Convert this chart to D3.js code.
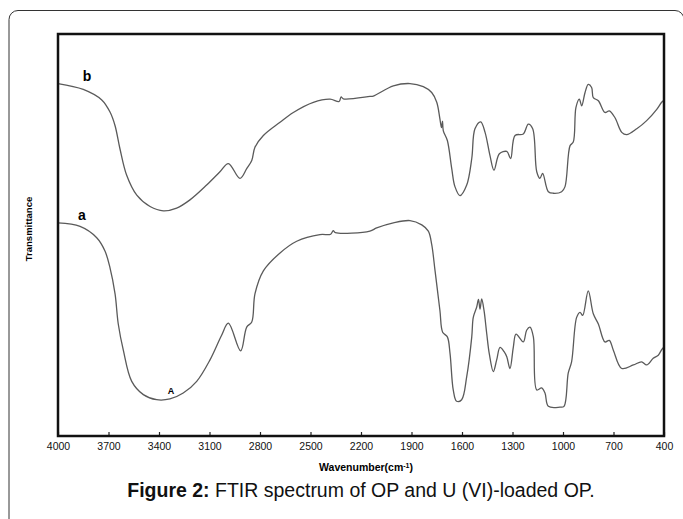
<!DOCTYPE html>
<html>
<head>
<meta charset="utf-8">
<script src="https://cdn.jsdelivr.net/npm/d3@7"></script>
<style>
  body { margin: 0; background: #fff; }
  svg { display: block; font-family: "Liberation Sans", Arial, sans-serif; }
</style>
</head>
<body>
<script>
// wavenumber (cm-1) and transmittance (arbitrary units)
const waveB = [4000, 3850, 3740, 3691, 3661, 3632, 3592, 3532, 3453, 3374, 3295, 3216, 3117, 3038, 2988, 2919, 2879, 2849, 2830, 2780, 2681, 2602, 2483, 2384, 2330, 2318, 2305, 2147, 2127, 2008, 1909, 1830, 1780, 1750, 1731, 1722, 1716, 1711, 1687, 1661, 1642, 1612, 1572, 1542, 1523, 1489, 1463, 1434, 1410, 1378, 1334, 1311, 1285, 1236, 1206, 1180, 1156, 1137, 1121, 1087, 1058, 1008, 988, 958, 939, 923, 903, 889, 869, 850, 830, 820, 790, 751, 725, 692, 651, 622, 562, 503, 443, 414, 400];
const transB = [89.8, 88.3, 85.6, 82.5, 79.0, 73.1, 66.3, 61.2, 58.3, 57.2, 57.9, 60.0, 63.8, 67.2, 69.3, 65.5, 68.0, 70.1, 73.5, 76.5, 79.9, 82.4, 85.0, 85.8, 85.2, 86.4, 85.9, 86.5, 86.6, 89.2, 89.8, 89.0, 87.5, 85.0, 80.7, 78.5, 80.2, 77.7, 75.2, 68.0, 63.4, 61.1, 63.8, 70.6, 78.2, 80.0, 77.3, 71.4, 67.6, 71.8, 72.4, 70.6, 76.5, 76.9, 79.4, 78.2, 67.2, 65.5, 66.8, 62.1, 61.7, 62.1, 63.4, 73.9, 74.8, 83.7, 85.8, 84.1, 87.5, 89.6, 88.8, 86.2, 85.4, 82.4, 82.8, 81.1, 77.3, 76.7, 78.2, 80.3, 83.2, 85.0, 85.5];

const waveA = [4000, 3869, 3770, 3721, 3691, 3661, 3642, 3612, 3562, 3493, 3414, 3335, 3256, 3176, 3097, 3028, 2988, 2915, 2879, 2849, 2830, 2780, 2681, 2582, 2444, 2380, 2365, 2352, 2147, 2107, 2008, 1909, 1839, 1800, 1780, 1760, 1731, 1715, 1687, 1671, 1652, 1632, 1602, 1572, 1542, 1533, 1513, 1502, 1493, 1483, 1469, 1453, 1438, 1414, 1394, 1374, 1350, 1334, 1315, 1295, 1279, 1236, 1216, 1196, 1176, 1156, 1127, 1107, 1087, 1018, 994, 969, 949, 919, 899, 883, 850, 820, 790, 751, 725, 701, 651, 582, 533, 503, 464, 434, 414, 400];
const transA = [54.1, 53.2, 50.3, 46.9, 42.6, 35.9, 28.2, 21.5, 13.5, 10.1, 8.8, 9.0, 10.5, 13.5, 19.0, 25.3, 28.4, 21.3, 27.4, 28.7, 35.9, 41.8, 46.4, 49.4, 51.1, 51.2, 52.1, 51.6, 52.0, 52.8, 54.1, 54.7, 53.6, 52.0, 48.6, 41.8, 31.6, 26.1, 24.9, 20.6, 11.3, 8.4, 8.8, 14.7, 24.9, 29.9, 32.5, 34.5, 32.0, 34.6, 31.6, 25.7, 20.6, 16.0, 19.0, 22.2, 21.1, 19.8, 16.8, 22.3, 25.6, 23.6, 26.6, 27.4, 24.9, 11.3, 11.8, 10.5, 7.1, 6.9, 7.1, 15.6, 18.5, 29.9, 31.2, 30.4, 36.7, 30.8, 28.2, 23.6, 24.0, 21.5, 16.8, 17.7, 18.5, 17.7, 19.4, 20.2, 21.6, 22.3];

const xTicks = [4000, 3700, 3400, 3100, 2800, 2500, 2200, 1900, 1600, 1300, 1000, 700, 400];

const width = 683, height = 519;
const plotL = 58, plotR = 664, plotT = 34, plotB = 436;

const svg = d3.select('body')
  .append('svg')
  .attr('width', width)
  .attr('height', height);

// outer box of the figure panel (runs off the right and bottom edges)
svg.append('rect')
  .attr('x', 9).attr('y', 10.5)
  .attr('width', 675).attr('height', 600)
  .attr('rx', 9)
  .attr('fill', 'none')
  .attr('stroke', '#333')
  .attr('stroke-width', 1);

const x = d3.scaleLinear()
  .domain([4000, 400])
  .range([plotL, plotR]);

const y = d3.scaleLinear()
  .domain([-0.5, 102.5])
  .range([plotB, plotT]);

const xAxis = d3.axisBottom(x)
  .tickValues(xTicks)
  .tickFormat(d3.format('d'))
  .tickSizeInner(-4)
  .tickSizeOuter(0)
  .tickPadding(7);

const gx = svg.append('g')
  .attr('transform', 'translate(0,' + plotB + ')')
  .call(xAxis);
gx.select('.domain').remove();
gx.selectAll('.tick line').attr('stroke', '#222').attr('stroke-width', 1.2);
gx.selectAll('.tick text')
  .attr('fill', '#111')
  .style('font-size', '10.5px')
  .style('font-family', '"Liberation Sans", Arial, sans-serif');

const line = d3.line()
  .x((d) => x(d[0]))
  .y((d) => y(d[1]))
  .curve(d3.curveCatmullRom.alpha(0.5));

const series = [
  waveB.map((w, i) => [w, transB[i]]),
  waveA.map((w, i) => [w, transA[i]])
];

svg.selectAll('path.spec')
  .data(series)
  .enter()
  .append('path')
  .attr('class', 'spec')
  .attr('d', line)
  .attr('fill', 'none')
  .attr('stroke', '#5a5a5a')
  .attr('stroke-width', 1.3);

// plot frame
svg.append('rect')
  .attr('x', plotL).attr('y', plotT)
  .attr('width', plotR - plotL).attr('height', plotB - plotT)
  .attr('fill', 'none')
  .attr('stroke', '#111')
  .attr('stroke-width', 2.5);

svg.append('text')
  .text('b')
  .attr('x', 87).attr('y', 81)
  .attr('text-anchor', 'middle')
  .style('font-size', '14px').style('font-weight', 'bold');

svg.append('text')
  .text('a')
  .attr('x', 82).attr('y', 220)
  .attr('text-anchor', 'middle')
  .style('font-size', '14px').style('font-weight', 'bold');

svg.append('text')
  .text('A')
  .attr('x', 171).attr('y', 394)
  .attr('text-anchor', 'middle')
  .style('font-size', '9px').style('font-weight', 'bold');

svg.append('text')
  .text('Transmittance')
  .attr('transform', 'translate(31.5,229) rotate(-90)')
  .attr('text-anchor', 'middle')
  .style('font-size', '9.5px').style('font-weight', 'bold');

const xl = svg.append('text')
  .attr('x', 366).attr('y', 471)
  .attr('text-anchor', 'middle')
  .style('font-size', '10.5px').style('font-weight', 'bold');
xl.append('tspan').text('Wavenumber(cm');
xl.append('tspan').text('-1').attr('dy', -3).style('font-size', '7px');
xl.append('tspan').text(')').attr('dy', 3);

const cap = svg.append('text')
  .attr('x', 361).attr('y', 497)
  .attr('text-anchor', 'middle')
  .style('font-size', '19.5px')
  .attr('fill', '#111');
cap.append('tspan').text('Figure 2:').style('font-weight', 'bold');
cap.append('tspan').text(' FTIR spectrum of OP and U (VI)-loaded OP.');
</script>
</body>
</html>
